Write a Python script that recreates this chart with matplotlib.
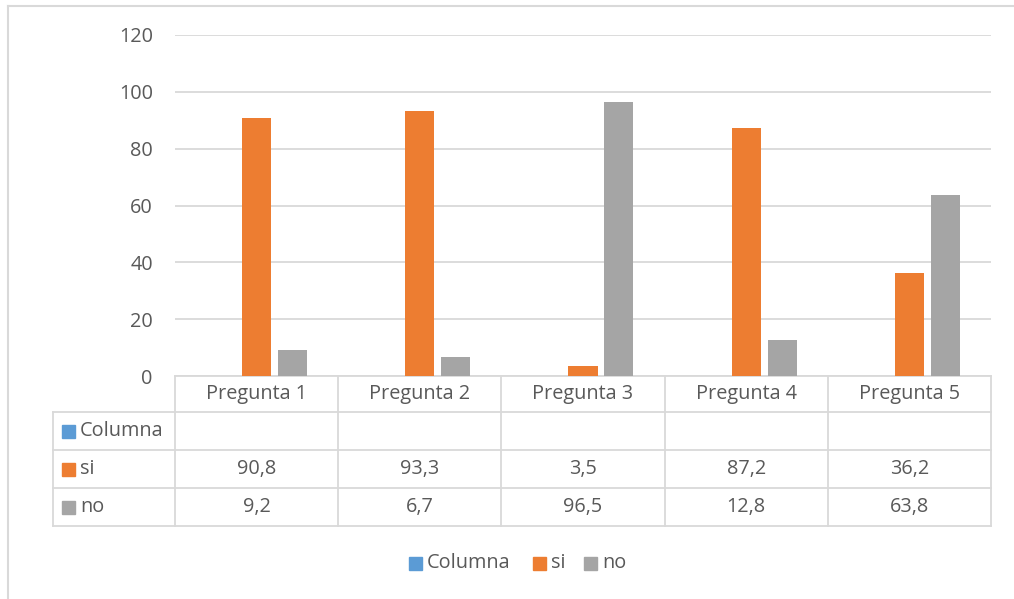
import matplotlib
matplotlib.use("Agg")
import matplotlib.pyplot as plt
from matplotlib.lines import Line2D
from matplotlib.patches import Rectangle
import numpy as np

categories = ["Pregunta 1", "Pregunta 2", "Pregunta 3", "Pregunta 4", "Pregunta 5"]
series_names = ["Columna", "si", "no"]
columna = [None, None, None, None, None]
si = [90.8, 93.3, 3.5, 87.2, 36.2]
no = [9.2, 6.7, 96.5, 12.8, 63.8]
si_labels = ["90,8", "93,3", "3,5", "87,2", "36,2"]
no_labels = ["9,2", "6,7", "96,5", "12,8", "63,8"]
y_ticks = [0, 20, 40, 60, 80, 100, 120]

colors = {"Columna": "#5b9bd5", "si": "#ed7d31", "no": "#a5a5a5"}
grid_c = "#d9d9d9"
text_c = "#595959"
FONT = "Open Sans"
FS = 14.3

W, H = 1014, 599
fig = plt.figure(figsize=(W / 100, H / 100), dpi=100)

def fx(px):
    return px / W

def fy(py):
    return 1 - py / H

ax_l, ax_r, ax_t, ax_b = 175, 991, 35, 376
ax = fig.add_axes([fx(ax_l), fy(ax_b), fx(ax_r) - fx(ax_l), fy(ax_t) - fy(ax_b)])
n = len(categories)
x = np.arange(n)
bw = 0.178
off = 0.22
ax.bar(x, si, width=bw, color=colors["si"], zorder=3)
ax.bar(x + off, no, width=bw, color=colors["no"], zorder=3)
ax.set_xlim(-0.5, n - 0.5)
ax.set_ylim(0, 120)
ax.set_yticks(y_ticks)
ax.set_yticklabels([str(t) for t in y_ticks], fontsize=FS, color=text_c, family=FONT)
ax.tick_params(axis="y", length=0, pad=16)
ax.set_xticks([])
ax.yaxis.grid(True, color=grid_c, linewidth=1.3, zorder=0)
for s in ["top", "right", "left"]:
    ax.spines[s].set_visible(False)
ax.spines["bottom"].set_color(grid_c)
ax.spines["bottom"].set_linewidth(1.3)

# data table
rows_y = [376, 412, 450, 488, 526]
tab_left = 53

def hline(y, x0, x1):
    fig.add_artist(Line2D([fx(x0), fx(x1)], [fy(y), fy(y)], color=grid_c, lw=1.3))

def vline(xp, y0, y1):
    fig.add_artist(Line2D([fx(xp), fx(xp)], [fy(y0), fy(y1)], color=grid_c, lw=1.3))

for y in rows_y[1:]:
    hline(y, tab_left, ax_r)
cw = (ax_r - ax_l) / n
for i in range(n + 1):
    vline(ax_l + i * cw, rows_y[0], rows_y[-1])
vline(tab_left, rows_y[1], rows_y[-1])

for i, c in enumerate(categories):
    cx = ax_l + (i + 0.5) * cw
    fig.text(fx(cx), fy((rows_y[0] + rows_y[1]) / 2), c, ha="center", va="center",
             fontsize=FS, color=text_c, family=FONT)
    fig.text(fx(cx), fy((rows_y[2] + rows_y[3]) / 2), si_labels[i], ha="center", va="center",
             fontsize=FS, color=text_c, family=FONT)
    fig.text(fx(cx), fy((rows_y[3] + rows_y[4]) / 2), no_labels[i], ha="center", va="center",
             fontsize=FS, color=text_c, family=FONT)

for k, name in enumerate(series_names):
    yc = (rows_y[k + 1] + rows_y[k + 2]) / 2
    sq = 13
    fig.add_artist(Rectangle((fx(62), fy(yc + sq / 2)), fx(sq), sq / H,
                             color=colors[name], transform=fig.transFigure))
    fig.text(fx(80), fy(yc), name, ha="left", va="center", fontsize=FS,
             color=text_c, family=FONT)

# bottom legend
leg_y = 563
items = [("Columna", 409), ("si", 533), ("no", 584)]
for name, lx in items:
    sq = 13
    fig.add_artist(Rectangle((fx(lx), fy(leg_y + sq / 2)), fx(sq), sq / H,
                             color=colors[name], transform=fig.transFigure))
    fig.text(fx(lx + 18), fy(leg_y), name, ha="left", va="center", fontsize=FS,
             color=text_c, family=FONT)

# chart border
fig.add_artist(Line2D([fx(8), fx(1014)], [fy(6), fy(6)], color=grid_c, lw=1.5))
fig.add_artist(Line2D([fx(8), fx(8)], [fy(6), fy(599)], color=grid_c, lw=1.5))

fig.savefig("out.png", dpi=100)
